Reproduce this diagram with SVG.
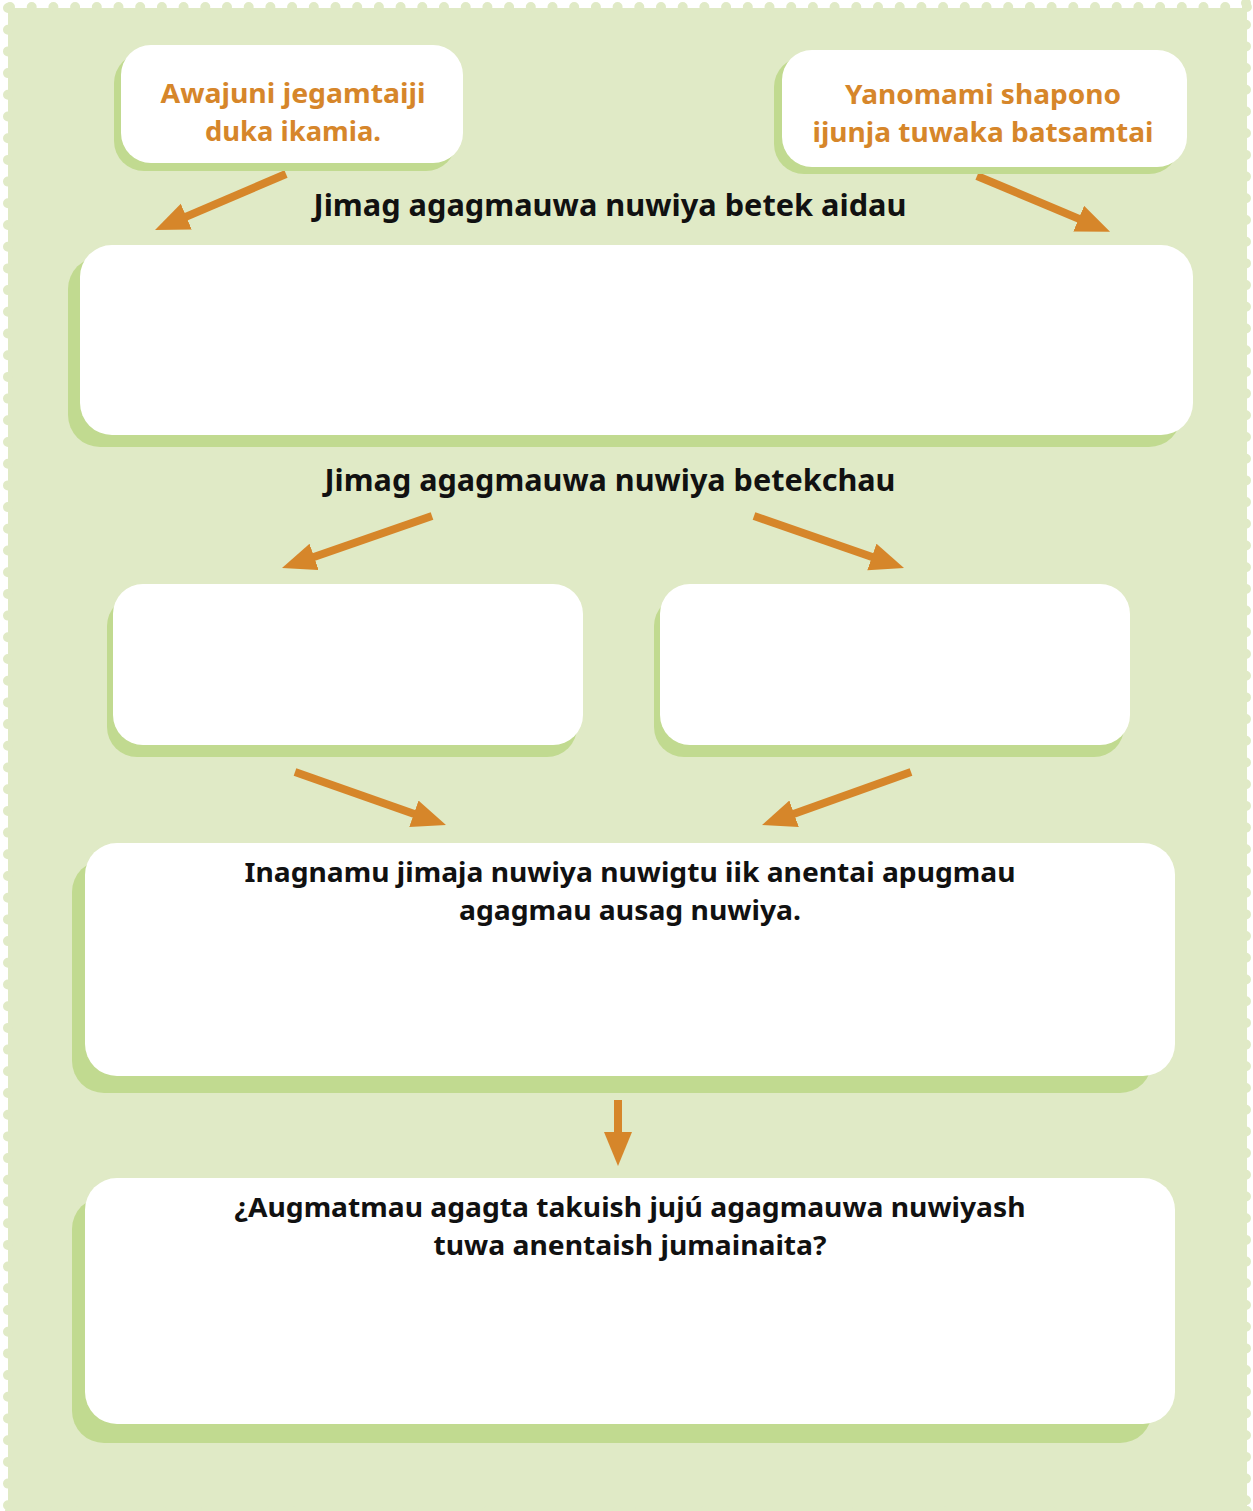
<svg xmlns="http://www.w3.org/2000/svg" width="1253" height="1511" viewBox="0 0 1253 1511">
<defs>
<style>
.bg{fill:#e0eac6}
.dots{fill:none;stroke:#e0eac6;stroke-width:10;stroke-linecap:round;stroke-dasharray:0 21.7}
.sh{fill:#c1da90}
.box{fill:#ffffff}
.or{font-family:"Noto Sans","Open Sans",sans-serif;font-weight:700;font-size:27px;fill:#d6862a;text-anchor:middle}
.hd{font-family:"Noto Sans","Open Sans",sans-serif;font-weight:700;font-size:31px;fill:#111111;text-anchor:middle}
.bt{font-family:"Noto Sans","Open Sans",sans-serif;font-weight:700;font-size:26px;fill:#111111;text-anchor:middle}
.ar{fill:none;stroke:#d6862a;stroke-width:8}
</style>
<marker id="ah" markerUnits="userSpaceOnUse" markerWidth="34" markerHeight="30" refX="14" refY="14" orient="auto" viewBox="0 0 34 30">
<path d="M0,0 L34,14 L0,28 z" fill="#d6862a"/>
</marker>
</defs>
<g id="background">
<rect class="bg" x="8" y="8" width="1239" height="1510"/>
<path class="dots" d="M10,7 H1247"/>
<path class="dots" d="M8,8 V1511"/>
<path class="dots" d="M1246,3 V1511"/>
<path class="dots" d="M10,1511 H1247"/>
</g>
<g id="connectors">
<line class="ar" x1="286" y1="174" x2="173.4" y2="222.1" marker-end="url(#ah)"/>
<line class="ar" x1="977" y1="176" x2="1091.6" y2="224.1" marker-end="url(#ah)"/>
<line class="ar" x1="432" y1="516" x2="300.9" y2="561.5" marker-end="url(#ah)"/>
<line class="ar" x1="754" y1="516" x2="885.1" y2="561.5" marker-end="url(#ah)"/>
<line class="ar" x1="295" y1="772" x2="427.1" y2="818.4" marker-end="url(#ah)"/>
<line class="ar" x1="911" y1="772" x2="780.9" y2="818.4" marker-end="url(#ah)"/>
<line class="ar" x1="618" y1="1100" x2="618" y2="1146" marker-end="url(#ah)"/>
</g>
<g id="node-awajuni">
<rect class="sh" x="114" y="53" width="342" height="118" rx="30"/>
<rect class="box" x="121" y="45" width="342" height="118" rx="30"/>
<text class="or" x="293" y="103" textLength="265" lengthAdjust="spacingAndGlyphs">Awajuni jegamtaiji</text>
<text class="or" x="293" y="141" textLength="176" lengthAdjust="spacingAndGlyphs">duka ikamia.</text>
</g>
<g id="node-yanomami">
<rect class="sh" x="774" y="57" width="405" height="117" rx="30"/>
<rect class="box" x="782" y="50" width="405" height="117" rx="30"/>
<text class="or" x="983" y="104" textLength="276" lengthAdjust="spacingAndGlyphs">Yanomami shapono</text>
<text class="or" x="983" y="142" textLength="341" lengthAdjust="spacingAndGlyphs">ijunja tuwaka batsamtai</text>
</g>
<text id="label-aidau" class="hd" x="610" y="216" textLength="593" lengthAdjust="spacingAndGlyphs">Jimag agagmauwa nuwiya betek aidau</text>
<g id="node-aidau">
<rect class="sh" x="68" y="257" width="1113" height="190" rx="32"/>
<rect class="box" x="80" y="245" width="1113" height="190" rx="32"/>
</g>
<text id="label-betekchau" class="hd" x="610" y="491" textLength="571" lengthAdjust="spacingAndGlyphs">Jimag agagmauwa nuwiya betekchau</text>
<g id="node-left">
<rect class="sh" x="107" y="596" width="470" height="161" rx="30"/>
<rect class="box" x="113" y="584" width="470" height="161" rx="30"/>
</g>
<g id="node-right">
<rect class="sh" x="654" y="596" width="470" height="161" rx="30"/>
<rect class="box" x="660" y="584" width="470" height="161" rx="30"/>
</g>
<g id="node-inagnamu">
<rect class="sh" x="72" y="860" width="1080" height="233" rx="32"/>
<rect class="box" x="85" y="843" width="1090" height="233" rx="32"/>
<text class="bt" x="630" y="882" textLength="771" lengthAdjust="spacingAndGlyphs">Inagnamu jimaja nuwiya nuwigtu iik anentai apugmau</text>
<text class="bt" x="630" y="920" textLength="342" lengthAdjust="spacingAndGlyphs">agagmau ausag nuwiya.</text>
</g>
<g id="node-augmatmau">
<rect class="sh" x="72" y="1197" width="1080" height="246" rx="32"/>
<rect class="box" x="85" y="1178" width="1090" height="246" rx="32"/>
<text class="bt" x="630" y="1217" textLength="791" lengthAdjust="spacingAndGlyphs">¿Augmatmau agagta takuish jujú agagmauwa nuwiyash</text>
<text class="bt" x="630" y="1255" textLength="393" lengthAdjust="spacingAndGlyphs">tuwa anentaish jumainaita?</text>
</g>
</svg>
